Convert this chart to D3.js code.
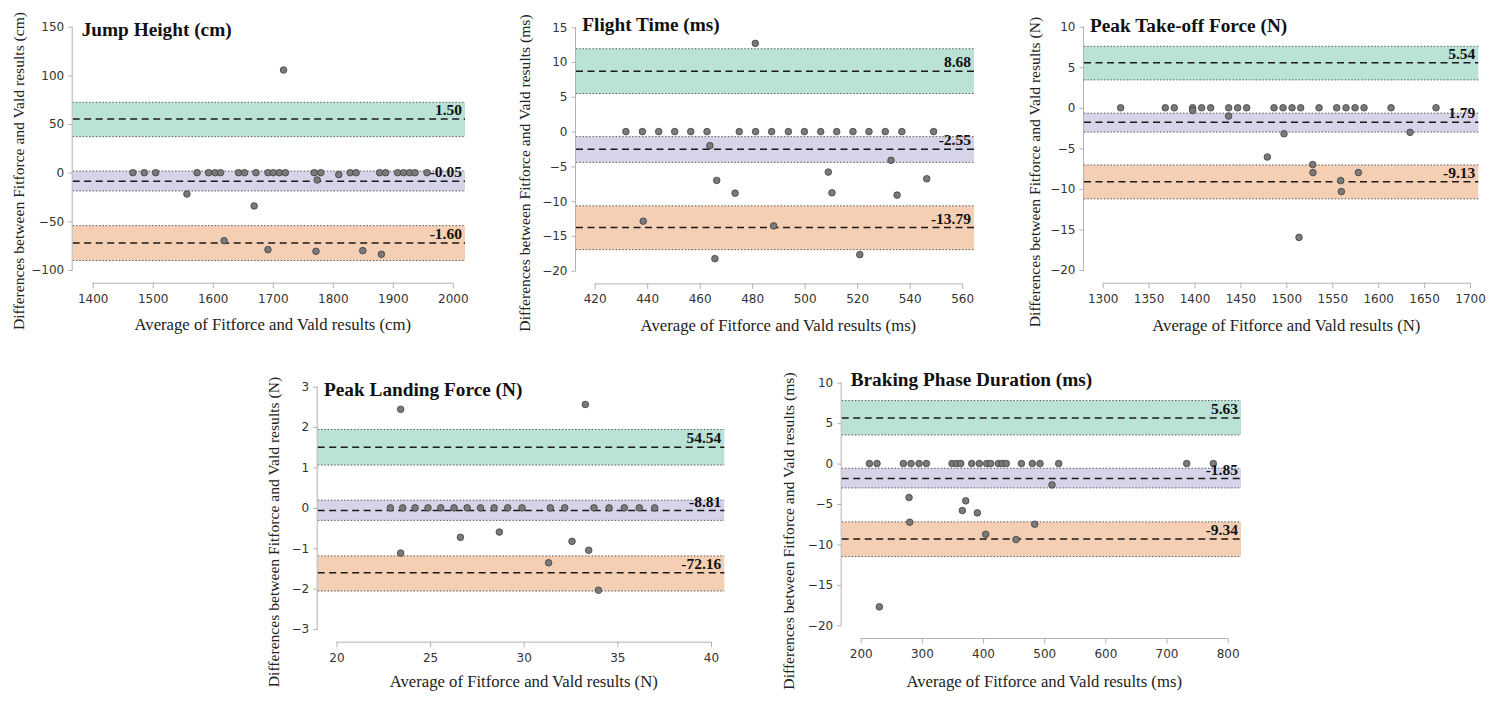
<!DOCTYPE html>
<html>
<head>
<meta charset="utf-8">
<script src="https://cdn.jsdelivr.net/npm/d3@7"></script>
<style>
  body { margin: 0; background: #fff; }
  svg { display: block; }
  .tick text { font-family: "DejaVu Sans", sans-serif; font-size: 12px; fill: #333; }
  .tick line, .domain { stroke: #b3b3b3; stroke-width: 1; }
  .title { font-family: "Liberation Serif", "Times New Roman", serif; font-weight: bold; font-size: 19.3px; fill: #111; }
  .axis-label { font-family: "Liberation Serif", "Times New Roman", serif; fill: #222; }
  .value-label { font-family: "Liberation Serif", "Times New Roman", serif; font-weight: bold; font-size: 15.5px; fill: #111; }
</style>
</head>
<body>
<svg id="chart"></svg>
<script>
// Bland-Altman panels: Fitforce vs Vald

// --- Jump Height (cm)
const jumpAvg = [1467, 1486, 1505, 1557, 1574, 1593, 1604, 1613, 1619, 1643, 1653, 1669, 1672, 1692, 1692, 1701, 1711, 1718, 1721, 1769, 1772, 1774, 1780, 1810, 1829, 1839, 1850, 1878, 1881, 1888, 1908, 1918, 1928, 1937, 1957]
const jumpDiff = [0, 0, 0, -21.9, 0, 0, 0, 0, -69.9, 0, 0, -34.2, 0, 0, -79.1, 0, 0, 105.5, 0, 0, -80.8, -7.5, 0, -2, 0, 0, -80.1, 0, -83.9, 0, 0, 0, 0, 0, 0]
const jumpUpper = [37, 55.1, 72.3]
const jumpBias = [-18.8, -8.9, 1.7]
const jumpLower = [-90.3, -72.2, -54.4]
const jumpText = ["1.50", "-0.05", "-1.60"]
const jumpXTicks = [1400, 1500, 1600, 1700, 1800, 1900, 2000]
const jumpYTicks = [-100, -50, 0, 50, 100, 150]

// --- Flight Time (ms)
const flightAvg = [431.9, 438.2, 444.4, 450.5, 456.6, 462.8, 475.1, 481.3, 487.4, 493.8, 499.9, 506.1, 512.2, 518.4, 524.5, 530.7, 537.0, 549.1,
  481.2, 463.9, 466.5, 473.5, 465.8, 438.5, 488.2, 509.0, 510.4, 521.0, 532.9, 535.2, 546.5]
const flightDiff = [0, 0, 0, 0, 0, 0, 0, 0, 0, 0, 0, 0, 0, 0, 0, 0, 0, 0,
  12.69, -2.02, -7.02, -8.85, -18.27, -12.88, -13.56, -5.82, -8.8, -17.69, -4.13, -9.13, -6.78]
const flightUpper = [5.48, 8.68, 11.92]
const flightBias = [-4.42, -2.55, -0.72]
const flightLower = [-16.97, -13.79, -10.67]
const flightText = ["8.68", "-2.55", "-13.79"]
const flightXTicks = [420, 440, 460, 480, 500, 520, 540, 560]
const flightYTicks = [-20, -15, -10, -5, 0, 5, 10, 15]

// --- Peak Take-off Force (N)
const takeoffAvg = [1319.6, 1368.2, 1378, 1398, 1407.8, 1417.6, 1437.2, 1447, 1456.8, 1486.6, 1496.4, 1506.2, 1515.6, 1535.6, 1554.8, 1565, 1574.8, 1584.6, 1614, 1663,
  1398, 1437.2, 1497.5, 1634.7, 1479.3, 1528.7, 1529, 1559.2, 1559.9, 1578.4, 1513.8]
const takeoffDiff = [0, 0, 0, 0, 0, 0, 0, 0, 0, 0, 0, 0, 0, 0, 0, 0, 0, 0, 0, 0,
  -0.33, -1.02, -3.2, -3.03, -6.07, -7.0, -7.99, -8.98, -10.33, -7.99, -15.98]
const takeoffUpper = [3.44, 5.54, 7.58]
const takeoffBias = [-2.99, -1.79, -0.66]
const takeoffLower = [-11.23, -9.13, -7.05]
const takeoffText = ["5.54", "1.79", "-9.13"]
const takeoffXTicks = [1300, 1350, 1400, 1450, 1500, 1550, 1600, 1650, 1700]
const takeoffYTicks = [-20, -15, -10, -5, 0, 5, 10]

// --- Peak Landing Force (N)
const landingAvg = [22.88, 23.54, 24.2, 24.89, 25.57, 26.28, 26.98, 27.69, 28.42, 29.15, 29.91, 31.42, 32.19, 33.75, 34.56, 35.37, 36.17, 36.99,
  23.43, 33.29, 23.43, 26.62, 28.7, 32.58, 33.47, 31.33, 33.99]
const landingDiff = [0, 0, 0, 0, 0, 0, 0, 0, 0, 0, 0, 0, 0, 0, 0, 0, 0, 0,
  2.44, 2.56, -1.12, -0.73, -0.6, -0.83, -1.05, -1.36, -2.04]
const landingUpper = [1.06, 1.5, 1.94]
const landingBias = [-0.31, -0.066, 0.19]
const landingLower = [-2.06, -1.61, -1.19]
const landingText = ["54.54", "-8.81", "-72.16"]
const landingXTicks = [20, 25, 30, 35, 40]
const landingYTicks = [-3, -2, -1, 0, 1, 2, 3]

// --- Braking Phase Duration (ms)
const brakingAvg = [214.2, 226.7, 269.8, 282.3, 295.4, 307.4, 349.3, 356.9, 363.5, 381.5, 394, 406, 412.5, 425.1, 431.6, 438.1, 462.7, 480.7, 493.2, 523.7, 733, 776.6,
  230.5, 279, 280.1, 366.2, 371.7, 390.7, 404.4, 454, 484.5, 512.8]
const brakingDiff = [0, 0, 0, 0, 0, 0, 0, 0, 0, 0, 0, 0, 0, 0, 0, 0, 0, 0, 0, 0, 0, 0,
  -17.72, -4.2, -7.25, -5.81, -4.61, -6.1, -8.74, -9.39, -7.5, -2.64]
const brakingUpper = [3.54, 5.63, 7.79]
const brakingBias = [-3.01, -1.85, -0.58]
const brakingLower = [-11.5, -9.34, -7.21]
const brakingText = ["5.63", "-1.85", "-9.34"]
const brakingXTicks = [200, 300, 400, 500, 600, 700, 800]
const brakingYTicks = [-20, -15, -10, -5, 0, 5, 10]

const width = 1497, height = 702
const bandColors = ["#1b9e77", "#7570b3", "#d95f02"]

// layout only: pixel box of each panel and where its texts sit
const panels = [
  { title: "Jump Height (cm)", unit: "cm", avg: jumpAvg, diff: jumpDiff, limits: [jumpUpper, jumpBias, jumpLower], text: jumpText,
    xTicks: jumpXTicks, yTicks: jumpYTicks, xlim: [1366.7, 2020.3],
    box: { left: 72.7, right: 465, top: 26.7, bottom: 270 }, titlePos: [81.7, 36], ylabelX: 19, labelY: 171, xlabelY: 324 },
  { title: "Flight Time (ms)", unit: "ms", avg: flightAvg, diff: flightDiff, limits: [flightUpper, flightBias, flightLower], text: flightText,
    xTicks: flightXTicks, yTicks: flightYTicks, xlim: [412.9, 564.5],
    box: { left: 576, right: 974, top: 27.3, bottom: 270.7 }, titlePos: [582.3, 30.7], ylabelX: 525, labelY: 173, xlabelY: 325 },
  { title: "Peak Take-off Force (N)", unit: "N", avg: takeoffAvg, diff: takeoffDiff, limits: [takeoffUpper, takeoffBias, takeoffLower], text: takeoffText,
    xTicks: takeoffXTicks, yTicks: takeoffYTicks, xlim: [1279.7, 1709],
    box: { left: 1084, right: 1478.3, top: 26.7, bottom: 270 }, titlePos: [1090, 31.7], ylabelX: 1035, labelY: 172, xlabelY: 325 },
  { title: "Peak Landing Force (N)", unit: "N", avg: landingAvg, diff: landingDiff, limits: [landingUpper, landingBias, landingLower], text: landingText,
    xTicks: landingXTicks, yTicks: landingYTicks, xlim: [19.0, 40.71],
    box: { left: 317.7, right: 724.3, top: 386.7, bottom: 629 }, titlePos: [324, 396], ylabelX: 274, labelY: 532, xlabelY: 681 },
  { title: "Braking Phase Duration (ms)", unit: "ms", avg: brakingAvg, diff: brakingDiff, limits: [brakingUpper, brakingBias, brakingLower], text: brakingText,
    xTicks: brakingXTicks, yTicks: brakingYTicks, xlim: [168.9, 821.8],
    box: { left: 841.7, right: 1241, top: 382.7, bottom: 625.3 }, titlePos: [850.7, 386], ylabelX: 789, labelY: 531, xlabelY: 681 }
]

const svg = d3.select("#chart")
  .attr("width", width)
  .attr("height", height)
  .attr("viewBox", `0 0 ${width} ${height}`)

function drawPanel(p) {
  const b = p.box
  const x = d3.scaleLinear().domain(p.xlim).range([b.left, b.right])
  const yExt = d3.extent(p.yTicks)
  const y = d3.scaleLinear().domain(yExt).range([b.bottom, b.top])
  const g = svg.append("g").attr("class", "panel")

  // confidence bands and limit lines
  p.limits.forEach((lim, i) => {
    g.append("rect")
      .attr("x", b.left)
      .attr("y", y(lim[2]))
      .attr("width", b.right - b.left)
      .attr("height", y(lim[0]) - y(lim[2]))
      .attr("fill", bandColors[i])
      .attr("fill-opacity", 0.3)
    ;[lim[0], lim[2]].forEach(v => {
      g.append("line")
        .attr("x1", b.left).attr("x2", b.right)
        .attr("y1", y(v)).attr("y2", y(v))
        .attr("stroke", "#5a5a5a")
        .attr("stroke-width", 1)
        .attr("stroke-dasharray", "1.5,1.8")
    })
    g.append("line")
      .attr("x1", b.left).attr("x2", b.right)
      .attr("y1", y(lim[1])).attr("y2", y(lim[1]))
      .attr("stroke", "#1a1a1a")
      .attr("stroke-width", 1.5)
      .attr("stroke-dasharray", "7,4.5")
  })

  // points
  g.selectAll("circle")
    .data(p.avg.map((a, i) => [a, p.diff[i]]))
    .join("circle")
    .attr("cx", d => x(d[0]))
    .attr("cy", d => y(d[1]))
    .attr("r", 3.3)
    .attr("fill", "#7a7a7a")
    .attr("stroke", "#3d3d3d")
    .attr("stroke-width", 0.8)

  // value labels above each line
  p.limits.forEach((lim, i) => {
    g.append("text")
      .attr("class", "value-label")
      .attr("x", b.right - 3)
      .attr("y", y(lim[1]) - 4)
      .attr("text-anchor", "end")
      .text(p.text[i])
  })

  // axes, spines trimmed to the tick range
  const xAxisY = b.bottom + 12.7
  const xa = g.append("g")
    .attr("transform", `translate(0,${xAxisY})`)
    .call(d3.axisBottom(x).tickValues(p.xTicks).tickFormat(d3.format("d"))
      .tickSize(5.5).tickPadding(6).tickSizeOuter(0))
  xa.select(".domain").attr("d", `M${x(p.xTicks[0])},0.5H${x(p.xTicks[p.xTicks.length - 1])}`)

  const ya = g.append("g")
    .attr("transform", `translate(${b.left},0)`)
    .call(d3.axisLeft(y).tickValues(p.yTicks).tickFormat(d3.format("d"))
      .tickSize(4.5).tickPadding(4).tickSizeOuter(0))
  ya.select(".domain").attr("d", `M-0.5,${y(yExt[1])}V${y(yExt[0])}`)

  g.append("text")
    .attr("class", "title")
    .attr("x", p.titlePos[0])
    .attr("y", p.titlePos[1])
    .text(p.title)

  g.append("text")
    .attr("class", "axis-label")
    .attr("x", (x(p.xTicks[0]) + x(p.xTicks[p.xTicks.length - 1])) / 2)
    .attr("y", p.xlabelY)
    .attr("dy", "0.35em")
    .attr("text-anchor", "middle")
    .attr("font-size", "16.7px")
    .text(`Average of Fitforce and Vald results (${p.unit})`)

  g.append("text")
    .attr("class", "axis-label")
    .attr("transform", `translate(${p.ylabelX},${p.labelY}) rotate(-90)`)
    .attr("dy", "0.35em")
    .attr("text-anchor", "middle")
    .attr("font-size", "15.6px")
    .text(`Differences between Fitforce and Vald results (${p.unit})`)
}

panels.forEach(drawPanel)
</script>
</body>
</html>
